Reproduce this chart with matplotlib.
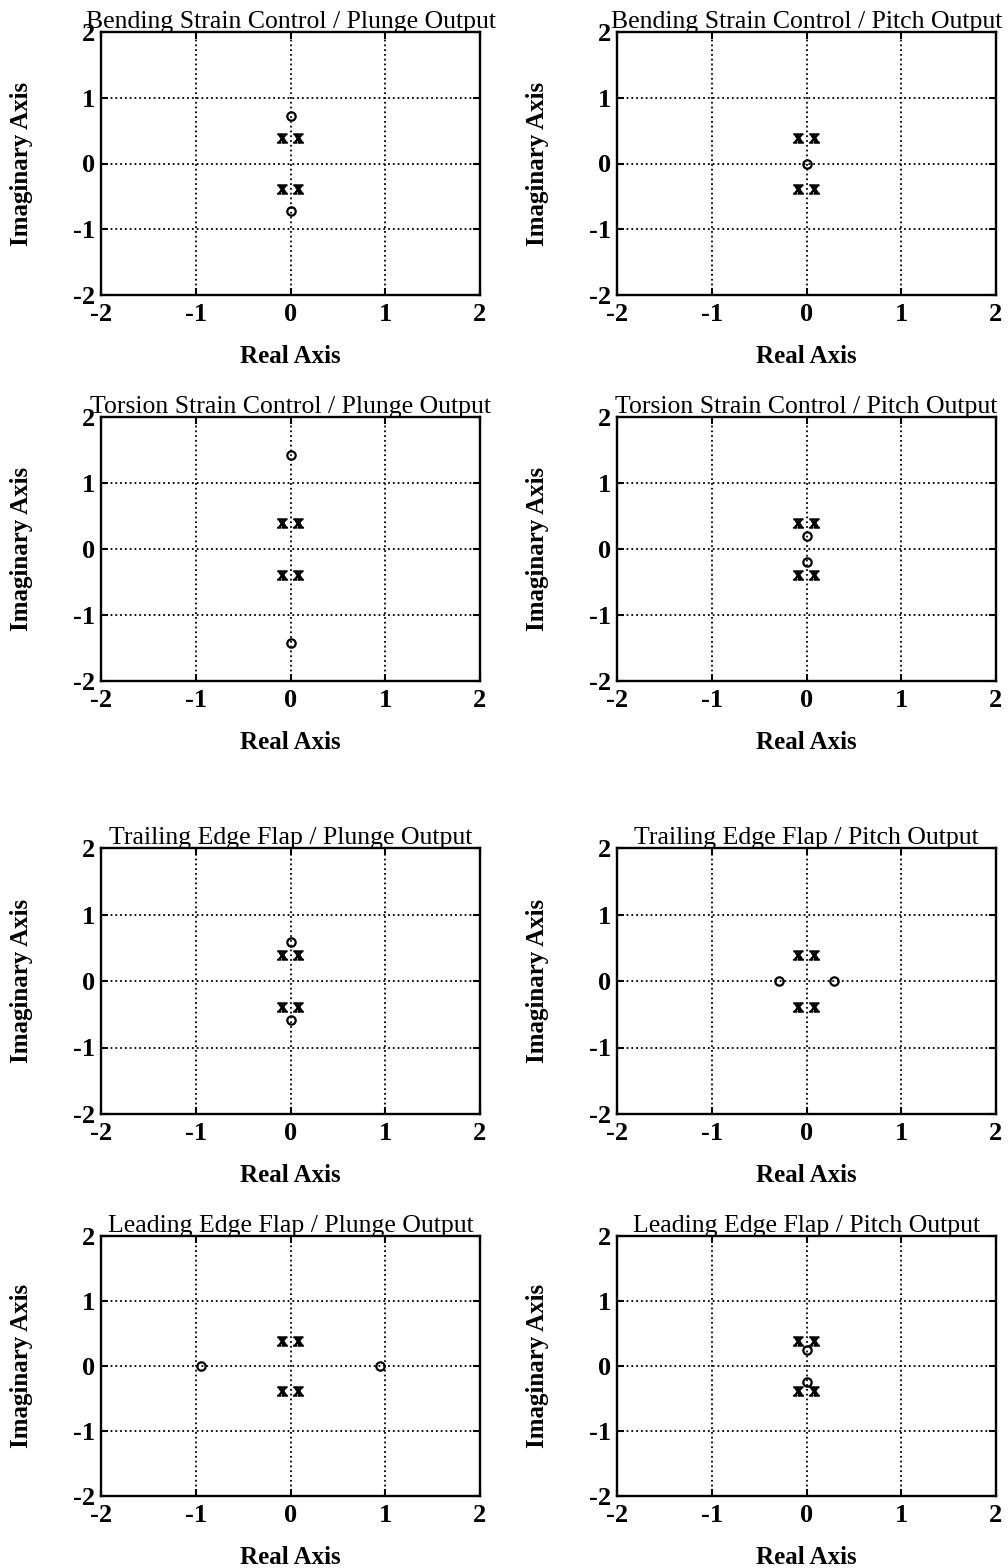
import matplotlib
matplotlib.use("Agg")
import matplotlib.pyplot as plt

plt.rcParams["font.family"] = ["Liberation Serif", "DejaVu Serif"]
plt.rcParams["mathtext.fontset"] = "custom"
plt.rcParams["mathtext.bf"] = "Liberation Serif:bold"

# panel titles, row by row (left, right)
titles = [
    "Bending Strain Control / Plunge Output",
    "Bending Strain Control / Pitch Output",
    "Torsion Strain Control / Plunge Output",
    "Torsion Strain Control / Pitch Output",
    "Trailing Edge Flap / Plunge Output",
    "Trailing Edge Flap / Pitch Output",
    "Leading Edge Flap / Plunge Output",
    "Leading Edge Flap / Pitch Output",
]

# poles (same in every panel)
pole_re = [-0.09, 0.08, -0.09, 0.08]
pole_im = [0.39, 0.39, -0.39, -0.39]

# zeros per panel
zero_re = [
    [0.0, 0.0],
    [0.0],
    [0.0, 0.0],
    [0.0, 0.0],
    [0.0, 0.0],
    [-0.29, 0.29],
    [-0.94, 0.94],
    [0.0, 0.0],
]
zero_im = [
    [0.72, -0.72],
    [0.0],
    [1.42, -1.42],
    [0.20, -0.20],
    [0.59, -0.59],
    [0.0, 0.0],
    [0.0, 0.0],
    [0.24, -0.24],
]

ticks = [-2, -1, 0, 1, 2]

W, H = 1008, 1568
fig = plt.figure(figsize=(W / 100, H / 100), dpi=100)

col_left = [101, 617]
col_width = 379
row_top = [32, 417, 848, 1236]
row_bottom = [295, 681, 1114, 1496]

for i, title in enumerate(titles):
    r, c = divmod(i, 2)
    h = row_bottom[r] - row_top[r]
    ax = fig.add_axes([col_left[c] / W, 1 - row_bottom[r] / H, col_width / W, h / H])

    ax.plot(pole_re, pole_im, linestyle="none", marker=r"$\mathbf{x}$",
            color="black", markersize=7)
    ax.plot(zero_re[i], zero_im[i], linestyle="none", marker="o", markersize=6,
            markerfacecolor="none", markeredgecolor="black", markeredgewidth=1.6)

    ax.set_xlim(-2, 2)
    ax.set_ylim(-2, 2)
    ax.set_xticks(ticks)
    ax.set_yticks(ticks)
    ax.set_xticklabels([str(t) for t in ticks], fontsize=19, fontweight="bold")
    ax.set_yticklabels([str(t) for t in ticks], fontsize=19, fontweight="bold")
    ax.tick_params(direction="in", top=True, right=True, length=5, width=1.5)
    ax.tick_params(axis="x", pad=6)
    ax.tick_params(axis="y", pad=4)
    ax.grid(True, linestyle=":", color="black", linewidth=1.3)
    for s in ax.spines.values():
        s.set_linewidth(1.7)

    ax.set_title(title, fontsize=18.5, pad=3)
    ax.set_xlabel("Real Axis", fontsize=18, fontweight="bold")
    ax.set_ylabel("Imaginary Axis", fontsize=18, fontweight="bold")
    ax.xaxis.set_label_coords(0.5, -50 / h)
    ax.yaxis.set_label_coords(-0.18, 0.5)

fig.savefig("out.png", dpi=100)
